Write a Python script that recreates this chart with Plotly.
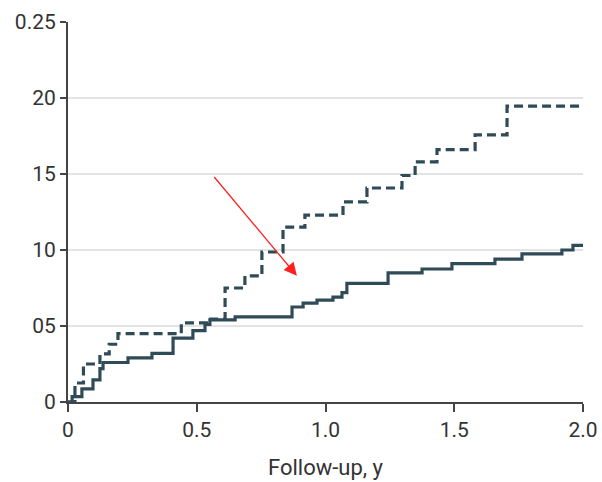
import plotly.graph_objects as go

# Solid curve (lower)
solid_x = [0, 0.016, 0.054, 0.097, 0.124, 0.136, 0.233, 0.326, 0.408, 0.485, 0.532, 0.551, 0.649,
           0.870, 0.913, 0.967, 1.029, 1.064, 1.083, 1.243, 1.375, 1.491, 1.658, 1.763, 1.918, 1.961, 2.0]
solid_y = [0, 0.0035, 0.0086, 0.0145, 0.022, 0.026, 0.029, 0.032, 0.042, 0.047, 0.051, 0.054, 0.056,
           0.0625, 0.065, 0.067, 0.069, 0.072, 0.078, 0.085, 0.0875, 0.091, 0.094, 0.0975, 0.100, 0.103, 0.103]

# Dashed curve (upper)
dashed_x = [0, 0.027, 0.06, 0.124, 0.16, 0.194, 0.44, 0.544, 0.61, 0.687, 0.753, 0.835, 0.92,
            1.068, 1.161, 1.297, 1.348, 1.433, 1.581, 1.705, 2.0]
dashed_y = [0, 0.0125, 0.025, 0.0316, 0.038, 0.045, 0.052, 0.0545, 0.075, 0.083, 0.0987, 0.115, 0.123,
            0.1316, 0.1408, 0.149, 0.158, 0.166, 0.1757, 0.1947, 0.1947]

y_tickvals = [0, 0.05, 0.10, 0.15, 0.20, 0.25]
y_ticktext = ["0", "05", "10", "15", "20", "0.25"]
x_tickvals = [0, 0.5, 1.0, 1.5, 2.0]
x_ticktext = ["0", "0.5", "1.0", "1.5", "2.0"]

line_color = "#2f4b57"
font_family = "Roboto, sans-serif"

fig = go.Figure()
fig.add_trace(go.Scatter(x=dashed_x, y=dashed_y, mode="lines", line_shape="hv",
                         line=dict(color=line_color, width=3.2, dash="9px,5px"), showlegend=False))
fig.add_trace(go.Scatter(x=solid_x, y=solid_y, mode="lines", line_shape="hv",
                         line=dict(color=line_color, width=3.2), showlegend=False))

fig.add_annotation(x=0.889, y=0.083, ax=0.563, ay=0.149, xref="x", yref="y", axref="x", ayref="y",
                   showarrow=True, arrowhead=2, arrowsize=2, arrowwidth=1.3, arrowcolor="#ff2020", text="")

fig.update_layout(
    width=602, height=482,
    margin=dict(l=68, r=19, t=22, b=80),
    plot_bgcolor="white", paper_bgcolor="white",
    font=dict(family=font_family, size=21, color="#333333"),
)
fig.update_xaxes(range=[0, 2.0], tickvals=x_tickvals, ticktext=x_ticktext, showgrid=False,
                 showline=True, linecolor="#444444", linewidth=2, ticks="outside", ticklen=8,
                 tickcolor="#444444", tickwidth=1.5, zeroline=False, automargin=False,
                 title=dict(text="Follow-up, y", font=dict(size=22), standoff=18))
fig.update_yaxes(range=[0, 0.25], tickvals=y_tickvals, ticktext=y_ticktext, showgrid=True,
                 gridcolor="#e3e3e3", gridwidth=1.5, showline=True, linecolor="#444444", linewidth=2,
                 ticks="outside", ticklen=6, tickcolor="#444444", tickwidth=1.5, zeroline=False,
                 automargin=False)

fig.write_html("out.html", config={"displayModeBar": False},
               post_script="document.body.style.margin='0px';document.body.style.overflow='hidden';")
